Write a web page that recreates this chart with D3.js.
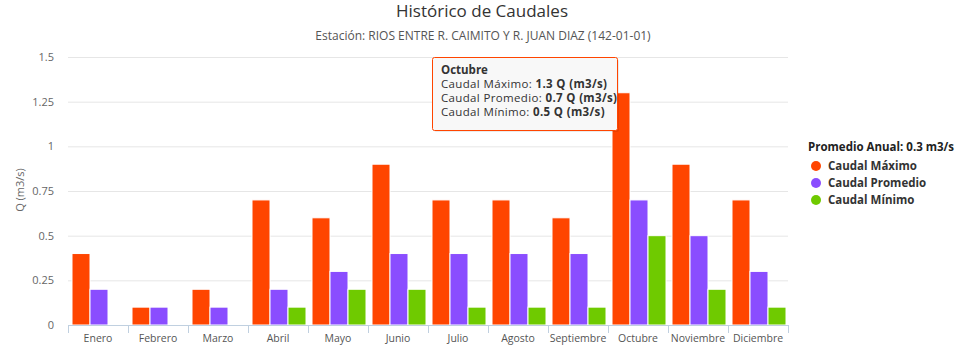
<!DOCTYPE html>
<html>
<head>
<meta charset="utf-8">
<script src="https://cdn.jsdelivr.net/npm/d3@7"></script>
<style>
  body { margin: 0; background: #fff; }
  svg { font-family: "Open Sans", "Noto Sans", sans-serif; }
</style>
</head>
<body>
<div id="wrapper"></div>
<script>
// data
const months = ["Enero", "Febrero", "Marzo", "Abril", "Mayo", "Junio", "Julio",
  "Agosto", "Septiembre", "Octubre", "Noviembre", "Diciembre"]
const caudalMaximo = [0.4, 0.1, 0.2, 0.7, 0.6, 0.9, 0.7, 0.7, 0.6, 1.3, 0.9, 0.7]
const caudalPromedio = [0.2, 0.1, 0.1, 0.2, 0.3, 0.4, 0.4, 0.4, 0.4, 0.7, 0.5, 0.3]
const caudalMinimo = [0, 0, 0, 0.1, 0.2, 0.2, 0.1, 0.1, 0.1, 0.5, 0.2, 0.1]
const seriesNames = ["Caudal Máximo", "Caudal Promedio", "Caudal Mínimo"]
const seriesColors = ["#ff4500", "#8a4dff", "#6fca00"]
const yTicks = [0, 0.25, 0.5, 0.75, 1, 1.25, 1.5]

function drawChart() {
  const dimensions = {
    width: 976,
    height: 353,
    margin: { top: 57, right: 188, bottom: 28, left: 68 },
  }
  dimensions.boundedWidth = dimensions.width - dimensions.margin.left - dimensions.margin.right
  dimensions.boundedHeight = dimensions.height - dimensions.margin.top - dimensions.margin.bottom

  const series = [caudalMaximo, caudalPromedio, caudalMinimo]

  const wrapper = d3.select("#wrapper")
    .append("svg")
      .attr("width", dimensions.width)
      .attr("height", dimensions.height)

  const bounds = wrapper.append("g")
    .attr("transform", `translate(${dimensions.margin.left},${dimensions.margin.top})`)

  const xScale = d3.scaleBand()
    .domain(months)
    .range([0, dimensions.boundedWidth])

  const innerScale = d3.scaleBand()
    .domain(d3.range(series.length))
    .range([4, xScale.bandwidth() - 2])

  const yScale = d3.scaleLinear()
    .domain([0, 1.5])
    .range([dimensions.boundedHeight, 0])

  // grid
  bounds.append("g")
    .selectAll("line")
    .data(yTicks.slice(1))
    .join("line")
      .attr("x1", 0)
      .attr("x2", dimensions.boundedWidth)
      .attr("y1", d => yScale(d) + 0.5)
      .attr("y2", d => yScale(d) + 0.5)
      .attr("stroke", "#e6e6e6")

  // bars
  series.forEach((values, i) => {
    bounds.append("g")
      .selectAll("rect")
      .data(values.map((v, j) => ({ month: months[j], value: v })))
      .join("rect")
        .filter(d => d.value > 0)
        .attr("x", d => xScale(d.month) + innerScale(i))
        .attr("width", innerScale.bandwidth())
        .attr("y", d => yScale(d.value))
        .attr("height", d => dimensions.boundedHeight - yScale(d.value))
        .attr("fill", seriesColors[i])
        .attr("stroke", "#fff")
        .attr("stroke-width", 1)
  })

  // x axis
  const xAxisGenerator = d3.axisBottom(xScale)
    .tickSize(0)
    .tickPadding(10)
  const xAxis = bounds.append("g")
    .attr("transform", `translate(0,${dimensions.boundedHeight})`)
    .call(xAxisGenerator)
  xAxis.select(".domain").attr("stroke", "#c0d0e0")
  xAxis.selectAll("text")
    .attr("fill", "#555")
    .style("font-size", "10.5px")
    .style("font-family", "\"Open Sans\", sans-serif")
  xAxis.append("g")
    .selectAll("line")
    .data(months.concat(["end"]))
    .join("line")
      .attr("x1", (d, i) => i * xScale.step() + 0.5)
      .attr("x2", (d, i) => i * xScale.step() + 0.5)
      .attr("y1", 0)
      .attr("y2", 8)
      .attr("stroke", "#c0d0e0")

  // y axis
  const yAxisGenerator = d3.axisLeft(yScale)
    .tickValues(yTicks)
    .tickFormat(d => d3.format("")(d))
    .tickSize(0)
    .tickPadding(14)
  const yAxis = bounds.append("g").call(yAxisGenerator)
  yAxis.select(".domain").remove()
  yAxis.selectAll("text")
    .attr("fill", "#666")
    .style("font-size", "11px")
    .style("font-family", "\"Open Sans\", sans-serif")

  wrapper.append("text")
    .attr("transform", `translate(24,${dimensions.margin.top + dimensions.boundedHeight / 2 - 1}) rotate(-90)`)
    .attr("text-anchor", "middle")
    .attr("fill", "#666")
    .style("font-size", "11px")
    .text("Q (m3/s)")

  // titles
  wrapper.append("text")
    .attr("x", 482)
    .attr("y", 17)
    .attr("text-anchor", "middle")
    .attr("fill", "#333")
    .style("font-size", "17px")
    .text("Histórico de Caudales")

  wrapper.append("text")
    .attr("x", 483)
    .attr("y", 40)
    .attr("text-anchor", "middle")
    .attr("fill", "#555")
    .style("font-size", "12px")
    .text("Estación: RIOS ENTRE R. CAIMITO Y R. JUAN DIAZ (142-01-01)")

  // legend
  const legend = wrapper.append("g")
    .attr("transform", "translate(808,151)")
  legend.append("text")
    .attr("fill", "#222")
    .style("font-size", "11.5px")
    .style("font-weight", "bold")
    .text("Promedio Anual: 0.3 m3/s")
  const legendItems = legend.selectAll("g.item")
    .data(seriesNames)
    .join("g")
      .attr("class", "item")
      .attr("transform", (d, i) => `translate(0,${19 + i * 17})`)
  legendItems.append("circle")
    .attr("cx", 8)
    .attr("cy", -4)
    .attr("r", 5)
    .attr("fill", (d, i) => seriesColors[i])
  legendItems.append("text")
    .attr("x", 20)
    .attr("fill", "#333")
    .style("font-size", "11.5px")
    .style("font-weight", "bold")
    .text(d => d)

  // tooltip for Octubre
  const tipIndex = months.indexOf("Octubre")
  const tip = wrapper.append("g")
    .attr("transform", "translate(432,57)")
  tip.append("rect")
    .attr("x", 2)
    .attr("y", 2)
    .attr("width", 185)
    .attr("height", 73)
    .attr("rx", 2)
    .attr("fill", "rgba(0,0,0,0.08)")
  tip.append("rect")
    .attr("x", 0.5)
    .attr("y", 0.5)
    .attr("width", 185)
    .attr("height", 73)
    .attr("rx", 2)
    .attr("fill", "#f8f8f8")
    .attr("stroke", "#ff4500")
    .attr("stroke-width", 1)
  tip.append("text")
    .attr("x", 9)
    .attr("y", 17)
    .attr("fill", "#333")
    .style("font-size", "11.5px")
    .style("font-weight", "bold")
    .text(months[tipIndex])
  series.forEach((values, i) => {
    const line = tip.append("text")
      .attr("x", 9)
      .attr("y", 31 + i * 14)
      .attr("fill", "#333")
      .style("font-size", "11.5px")
      .style("letter-spacing", "0.35px")
    line.append("tspan").text(seriesNames[i] + ": ")
    line.append("tspan")
      .style("font-weight", "bold")
      .text(values[tipIndex] + " Q (m3/s)")
  })
}
drawChart()
</script>
</body>
</html>
